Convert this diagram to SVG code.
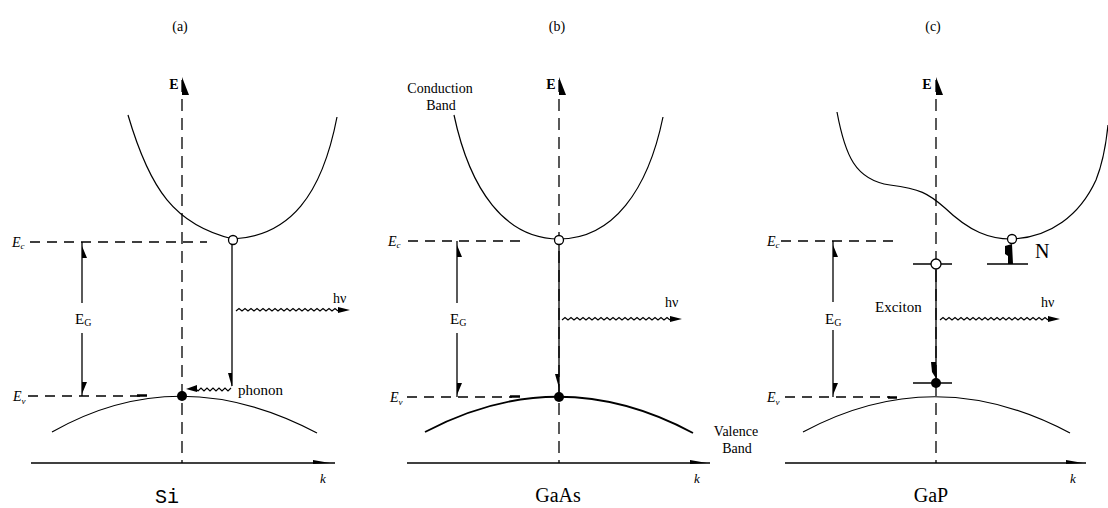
<svg xmlns="http://www.w3.org/2000/svg" width="1108" height="508" viewBox="0 0 1108 508">
<style>
.ln{stroke:#000;stroke-width:1.3;fill:none}
.ax{stroke:#000;stroke-width:1.3;fill:none;stroke-dasharray:12 7}
.ds{stroke:#000;stroke-width:1.3;fill:none;stroke-dasharray:10 7}
.cv{stroke:#000;stroke-width:1.2;fill:none}
.cvb{stroke:#000;stroke-width:1.8;fill:none}
.wv{stroke:#000;stroke-width:1.2;fill:none}
.mk{stroke:#000;stroke-width:2.5}
.ah{fill:#000}
.oc{fill:#fff;stroke:#000;stroke-width:1.3}
.fc{fill:#000}
.t{font-family:"Liberation Serif",serif;fill:#000}
.ti{font-family:"Liberation Serif",serif;font-style:italic;fill:#000}
.tm{font-family:"Liberation Mono",monospace;fill:#000}
</style>
<rect width="1108" height="508" fill="#fff"/>

<g id="panel-a">
  <text class="t" x="180" y="31" font-size="14" text-anchor="middle">(a)</text>
  <text class="t" x="174" y="89" font-size="14" font-weight="bold" text-anchor="middle">E</text>
  <polygon class="ah" points="182,77 189,95 182,95"/>
  <line class="ax" x1="182" y1="80" x2="182" y2="463"/>
  <line class="ln" x1="31" y1="463" x2="335" y2="463"/>
  <polygon class="ah" points="313,460 330,463 313,464"/>
  <text class="ti" x="323" y="483" font-size="13" text-anchor="middle">k</text>
  <text class="tm" x="167" y="503" font-size="20" text-anchor="middle">Si</text>
  <text class="ti" x="12" y="247" font-size="14">E<tspan font-size="9" dy="2">c</tspan></text>
  <line class="ds" x1="30" y1="242" x2="207" y2="242"/>
  <text class="ti" x="13" y="401" font-size="14">E<tspan font-size="9" dy="3">v</tspan></text>
  <line class="ds" x1="28" y1="396" x2="140" y2="396"/>
  <line class="mk" x1="137" y1="395.5" x2="147" y2="395.5"/>
  <line class="ln" x1="82" y1="242" x2="82" y2="303"/>
  <line class="ln" x1="82" y1="333" x2="82" y2="396"/>
  <polygon class="ah" points="82,246 87,258 82,258"/>
  <polygon class="ah" points="82,394 87,382 82,382"/>
  <text class="t" x="75" y="324" font-size="15">E<tspan font-size="10" dy="2">G</tspan></text>
  <path class="cv" d="M128,115 C150,190 175,225 233,239 C290,236 322,195 337,117"/>
  <path class="cv" d="M52,432 Q179,360 317,433"/>
  <line class="ln" x1="232" y1="245" x2="232" y2="386"/>
  <polygon class="ah" points="232,387 228,373 232,373"/>
  <circle class="oc" cx="233" cy="240" r="4.5"/>
  <circle class="fc" cx="182" cy="396" r="5"/>
  <path class="wv" d="M236,311 l3,-2.5 3,2.5 3,-2.5 3,2.5 3,-2.5 3,2.5 3,-2.5 3,2.5 3,-2.5 3,2.5 3,-2.5 3,2.5 3,-2.5 3,2.5 3,-2.5 3,2.5 3,-2.5 3,2.5 3,-2.5 3,2.5 3,-2.5 3,2.5 3,-2.5 3,2.5 3,-2.5 3,2.5 3,-2.5 3,2.5 3,-2.5 3,2.5 3,-2.5 3,2.5 3,-2.5 3,2.5"/>
  <polygon class="ah" points="338,307 350,310 338,313"/>
  <text class="t" x="333" y="303" font-size="14">hν</text>
  <path class="wv" d="M231,388 l-3,3 -3,-3 -3,3 -3,-3 -3,3 -3,-3 -3,3 -3,-3 -3,3 -3,-3 -3,3 -3,-3"/>
  <polygon class="ah" points="186,389 197,385 197,392"/>
  <text class="t" x="238" y="395" font-size="15">phonon</text>
</g>

<g id="panel-b">
  <text class="t" x="557" y="31" font-size="14" text-anchor="middle">(b)</text>
  <text class="t" x="551" y="89" font-size="14" font-weight="bold" text-anchor="middle">E</text>
  <polygon class="ah" points="559,77 566,95 559,95"/>
  <line class="ax" x1="559" y1="80" x2="559" y2="463"/>
  <line class="ln" x1="407" y1="463" x2="710" y2="463"/>
  <polygon class="ah" points="690,460 707,463 690,464"/>
  <text class="ti" x="697" y="483" font-size="13" text-anchor="middle">k</text>
  <text class="t" x="558" y="502" font-size="20" text-anchor="middle">GaAs</text>
  <text class="t" x="440" y="93" font-size="14" text-anchor="middle">Conduction</text>
  <text class="t" x="441" y="110" font-size="14" text-anchor="middle">Band</text>
  <text class="ti" x="388" y="246" font-size="14">E<tspan font-size="9" dy="2">c</tspan></text>
  <line class="ds" x1="408" y1="241" x2="520" y2="241"/>
  <text class="ti" x="390" y="402" font-size="14">E<tspan font-size="9" dy="3">v</tspan></text>
  <line class="ds" x1="407" y1="397" x2="512" y2="397"/>
  <line class="mk" x1="510" y1="396.5" x2="520" y2="396.5"/>
  <line class="ln" x1="457" y1="241" x2="457" y2="303"/>
  <line class="ln" x1="457" y1="333" x2="457" y2="397"/>
  <polygon class="ah" points="457,245 462,257 457,257"/>
  <polygon class="ah" points="457,395 462,383 457,383"/>
  <text class="t" x="450" y="324" font-size="15">E<tspan font-size="10" dy="2">G</tspan></text>
  <path class="cv" d="M454,115 C470,190 505,239 559,239 C613,239 648,190 663,117"/>
  <path class="cvb" d="M425,432 Q559,361 693,433"/>
  <line class="ln" x1="559" y1="245" x2="559" y2="392"/>
  <polygon class="ah" points="559,388 555,374 559,374"/>
  <circle class="oc" cx="559" cy="240" r="4.5"/>
  <circle class="fc" cx="559" cy="397" r="5"/>
  <path class="wv" d="M562,320 l3,-2.5 3,2.5 3,-2.5 3,2.5 3,-2.5 3,2.5 3,-2.5 3,2.5 3,-2.5 3,2.5 3,-2.5 3,2.5 3,-2.5 3,2.5 3,-2.5 3,2.5 3,-2.5 3,2.5 3,-2.5 3,2.5 3,-2.5 3,2.5 3,-2.5 3,2.5 3,-2.5 3,2.5 3,-2.5 3,2.5 3,-2.5 3,2.5 3,-2.5 3,2.5 3,-2.5 3,2.5 3,-2.5 3,2.5"/>
  <polygon class="ah" points="670,316 682,319 670,322"/>
  <text class="t" x="665" y="307" font-size="14">hν</text>
  <text class="t" x="736" y="436" font-size="14" text-anchor="middle">Valence</text>
  <text class="t" x="737" y="453" font-size="14" text-anchor="middle">Band</text>
</g>

<g id="panel-c">
  <text class="t" x="933" y="31" font-size="14" text-anchor="middle">(c)</text>
  <text class="t" x="927" y="89" font-size="14" font-weight="bold" text-anchor="middle">E</text>
  <polygon class="ah" points="936,77 943,95 936,95"/>
  <line class="ax" x1="936" y1="80" x2="936" y2="463"/>
  <line class="ln" x1="785" y1="463" x2="1086" y2="463"/>
  <polygon class="ah" points="1066,460 1083,463 1066,464"/>
  <text class="ti" x="1073" y="483" font-size="13" text-anchor="middle">k</text>
  <text class="t" x="931" y="502" font-size="20" text-anchor="middle">GaP</text>
  <text class="ti" x="767" y="246" font-size="14">E<tspan font-size="9" dy="2">c</tspan></text>
  <line class="ds" x1="781" y1="241" x2="895" y2="241"/>
  <text class="ti" x="767" y="402" font-size="14">E<tspan font-size="9" dy="3">v</tspan></text>
  <line class="ds" x1="785" y1="397" x2="890" y2="397"/>
  <line class="mk" x1="888" y1="397.5" x2="897" y2="397.5"/>
  <line class="ln" x1="833" y1="241" x2="833" y2="302"/>
  <line class="ln" x1="833" y1="330" x2="833" y2="397"/>
  <polygon class="ah" points="833,245 838,257 833,257"/>
  <polygon class="ah" points="833,395 838,383 833,383"/>
  <text class="t" x="825" y="324" font-size="15">E<tspan font-size="10" dy="2">G</tspan></text>
  <path class="cv" d="M837,112 C845,155 855,180 890,185 C920,189 928,193 945,208 C970,232 990,239 1011,239 C1050,238 1080,215 1096,180 C1102,165 1106,145 1108,125"/>
  <path class="cv" d="M803,432 Q935,361 1070,433"/>
  <line class="ln" x1="987" y1="264" x2="1028" y2="264"/>
  <polygon class="ah" points="1005,246 1012,244 1013,264 1008,264 1008,256 1005,254"/>
  <circle class="oc" cx="1012" cy="239" r="4.5"/>
  <text class="t" x="1035" y="258" font-size="20">N</text>
  <line class="ln" x1="913" y1="264" x2="952" y2="264"/>
  <line class="ln" x1="913" y1="383" x2="952" y2="383"/>
  <line class="ln" x1="936" y1="268" x2="936" y2="380"/>
  <polygon class="ah" points="931,362 936,362 937,380 932,372"/>
  <circle class="oc" cx="936" cy="264" r="5"/>
  <circle class="fc" cx="936" cy="383" r="5"/>
  <text class="t" x="875" y="312" font-size="15">Exciton</text>
  <path class="wv" d="M940,320 l3,-2.5 3,2.5 3,-2.5 3,2.5 3,-2.5 3,2.5 3,-2.5 3,2.5 3,-2.5 3,2.5 3,-2.5 3,2.5 3,-2.5 3,2.5 3,-2.5 3,2.5 3,-2.5 3,2.5 3,-2.5 3,2.5 3,-2.5 3,2.5 3,-2.5 3,2.5 3,-2.5 3,2.5 3,-2.5 3,2.5 3,-2.5 3,2.5 3,-2.5 3,2.5 3,-2.5 3,2.5 3,-2.5 3,2.5"/>
  <polygon class="ah" points="1048,316 1060,319 1048,322"/>
  <text class="t" x="1041" y="307" font-size="14">hν</text>
</g>
</svg>
